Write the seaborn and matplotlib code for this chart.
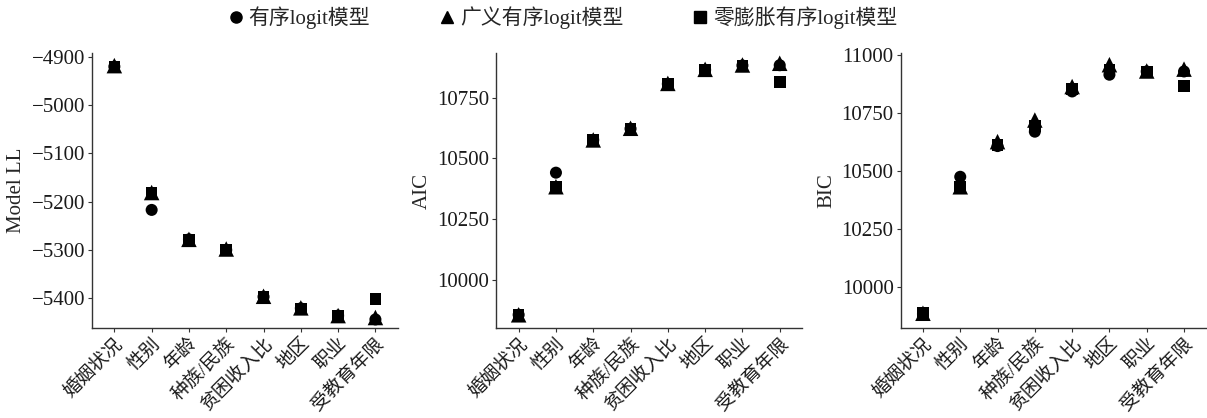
import pandas as pd
import matplotlib.pyplot as plt
import seaborn as sns

# variables added step by step
variables = ['婚姻状况', '性别', '年龄', '种族/民族', '贫困收入比', '地区', '职业', '受教育年限']
models = ['有序logit模型', '广义有序logit模型', '零膨胀有序logit模型']

# values
ll_ologit = [-4920, -5217, -5278, -5300, -5397, -5421, -5436, -5444]
ll_gologit = [-4918, -5181, -5278, -5298, -5396, -5420, -5436, -5440]
ll_ziologit = [-4920, -5181, -5278, -5300, -5397, -5421, -5436, -5402]

aic_ologit = [9855, 10441, 10576, 10622, 10807, 10865, 10883, 10884]
aic_gologit = [9855, 10383, 10576, 10624, 10809, 10867, 10885, 10892]
aic_ziologit = [9855, 10383, 10576, 10622, 10807, 10865, 10883, 10816]

bic_ologit = [9885, 10475, 10607, 10669, 10842, 10914, 10928, 10928]
bic_gologit = [9888, 10432, 10626, 10719, 10863, 10957, 10930, 10938]
bic_ziologit = [9888, 10432, 10612, 10694, 10852, 10935, 10928, 10866]

frames = {}
for m, ll, aic, bic in zip(models,
                           [ll_ologit, ll_gologit, ll_ziologit],
                           [aic_ologit, aic_gologit, aic_ziologit],
                           [bic_ologit, bic_gologit, bic_ziologit]):
    frames[m] = pd.DataFrame({'variable': variables, 'model': m,
                              'Model LL': ll, 'AIC': aic, 'BIC': bic})
# circles at the bottom, triangles on top
df = pd.concat([frames[models[0]], frames[models[2]], frames[models[1]]],
               ignore_index=True)

sns.set_style('white')
plt.rcParams['font.family'] = ['Liberation Serif', 'Noto Sans CJK SC']
plt.rcParams['axes.unicode_minus'] = True

fig, axes = plt.subplots(1, 3, figsize=(12.07, 4.18), dpi=100)
fig.subplots_adjust(left=0.0762, right=0.9995, top=0.873, bottom=0.215, wspace=0.322)

markers = {models[0]: 'o', models[1]: '^', models[2]: 's'}
sizes = {models[0]: 75, models[1]: 125, models[2]: 70}
ylims = [(-5462, -4892), (9800, 10934), (9824, 11007)]
yticks = [[-5400, -5300, -5200, -5100, -5000, -4900],
          [10000, 10250, 10500, 10750],
          [10000, 10250, 10500, 10750, 11000]]

for ax, col, yl, yt in zip(axes, ['Model LL', 'AIC', 'BIC'], ylims, yticks):
    sns.scatterplot(data=df, x='variable', y=col, style='model', markers=markers,
                    size='model', sizes=sizes, color='black', edgecolor='black',
                    linewidth=0, ax=ax, legend=False)
    ax.set_xlim(-0.6, 7.6)
    ax.set_ylim(*yl)
    ax.set_yticks(yt)
    ax.set_xlabel('')
    ax.set_ylabel(col, fontsize=15, labelpad=4)
    sns.despine(ax=ax)
    for s in ['left', 'bottom']:
        ax.spines[s].set_color('#333333')
        ax.spines[s].set_linewidth(1.0)
    ax.tick_params(axis='both', which='both', length=3, width=0.8, color='#333333',
                   left=True, bottom=True, labelsize=15, labelcolor='#1a1a1a', pad=2)
    ax.set_xticks(range(len(variables)))
    ax.set_xticklabels(variables, rotation=45, ha='right', rotation_mode='anchor',
                       fontsize=13.5)

handles = [plt.Line2D([], [], linestyle='', marker=markers[m], color='black',
                      markersize=8 if m != models[1] else 9) for m in models]
fig.legend(handles, models, loc='center', bbox_to_anchor=(0.466, 0.957), ncol=3,
           frameon=False, fontsize=15, handlelength=0.8, handletextpad=0.2,
           columnspacing=3.3)

fig.savefig('out.png', dpi=100)
